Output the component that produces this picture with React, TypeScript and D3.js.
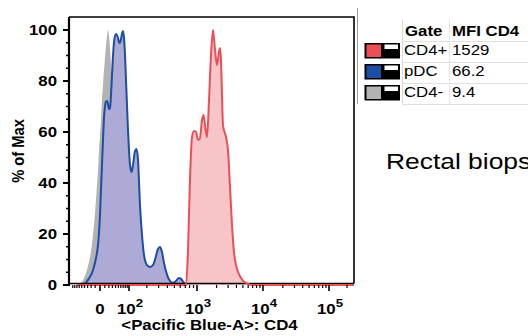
import React from "react";
import * as d3 from "d3";

// ---- data (intensity, % of max) ----
const grayX = [-65, -57, -45, -32, -20, -12.8, -8.2, -3.9, -1.9, 1.9, 3.9, 6.0, 8.2, 10.4, 12.8, 15.2, 17.7, 20.3, 23.0, 25.9, 28.8, 31.8, 38.2, 49.0, 65.0, 94.4, 128, 187];
const grayY = [0, 0.4, 2, 5.9, 13.7, 23.5, 33.3, 45.1, 52.9, 64.7, 72.5, 78.4, 84.3, 89, 94.1, 97.6, 100, 97.6, 93, 86.3, 79.6, 72.5, 60.8, 43.1, 23.5, 9, 2.7, 0];

const blueX = [-41.7, -28.8, -15, -8.2, -3.9, 0, 1.9, 3.9, 6.0, 8.2, 10.4, 12.8, 15.2, 17.7, 20.3, 23, 25.9, 28.8, 31.8, 35, 38.2, 41.7, 45.2, 49, 52.7, 56.7, 60.8, 65, 69.5, 74.1, 79, 83.9, 89, 94.4, 100, 104.4, 111.1, 118.2, 128.1, 135.8, 144.1, 155.4, 167.6, 180.4, 201.1, 223.6, 248.1, 274.8, 293.9, 314, 335.6, 358.3, 396.6, 435, 478.5, 525.9, 577.6, 614.4, 674, 739];
const blueY = [0, 2, 5.9, 10.6, 15.7, 27.5, 37.3, 47.1, 56.9, 65.5, 70, 72, 72.2, 71, 69, 69.4, 74.5, 82.4, 89.8, 95.3, 97.6, 98.4, 98, 96.9, 95.3, 94.9, 96.5, 98.4, 99.6, 96.9, 90.2, 80.4, 70.6, 60.8, 52.9, 47.1, 44.3, 47.1, 52.5, 53.3, 49, 31.4, 19.6, 11.8, 7.8, 7.1, 7.8, 11.4, 14.1, 14.9, 12.9, 8.6, 3.9, 1.6, 0.8, 1.6, 2.7, 2.4, 0.8, 0];

const redX = [-70, 716.7, 761.8, 809, 860, 914, 970.7, 1036.6, 1113, 1196, 1261, 1330, 1428, 1534, 1646, 1765, 1895, 2032, 2179, 2255, 2337, 2420, 2506, 2783, 2984, 3200, 3428, 3675, 3940, 4370, 5031, 5950, 6848, 262144];
const redY = [0, 0, 13.7, 41.2, 58, 60.4, 60, 56.9, 57.6, 64.7, 66.7, 62.7, 58, 72.5, 90.2, 100, 92.2, 86.3, 91.4, 92.9, 88.2, 74.5, 62.7, 58, 52.9, 38.4, 23.5, 12.9, 7.8, 4.3, 1.6, 0.4, 0, 0];

const yTicks = [0, 20, 40, 60, 80, 100];
const xMajorTicks = [0, 100, 1000, 10000, 100000];
const xTickLabels = [
  { base: "0", exp: "" },
  { base: "10", exp: "2" },
  { base: "10", exp: "3" },
  { base: "10", exp: "4" },
  { base: "10", exp: "5" },
];

const legendGates = ["CD4+", "pDC", "CD4-"];
const legendMFI = ["1529", "66.2", "9.4"];
const legendColors = ["#e94f55", "#1e4ea3", "#b3b3b3"];

const FONT = "'Liberation Sans', Arial, sans-serif";
const SX = 1.2; // horizontal stretch of text seen in the reference

function T(props: {
  x: number;
  y: number;
  size: number;
  bold?: boolean;
  anchor?: "start" | "middle" | "end";
  children: React.ReactNode;
}) {
  return (
    <text
      transform={`translate(${props.x},${props.y}) scale(${SX},1)`}
      textAnchor={props.anchor || "start"}
      fontSize={props.size}
      fontWeight={props.bold ? "bold" : "normal"}
    >
      {props.children}
    </text>
  );
}

export default function App() {
  const L = 69, R = 354, Tp = 17, B = 285;
  const x = d3
    .scaleSymlog()
    .constant(50)
    .domain([-112, 0, 100, 1000, 10000, 100000, 262144])
    .range([L, 100, 129, 197, 263, 329, R]);
  const y = d3.scaleLinear().domain([0, 100]).range([B, 30]);

  const zip = (xs: number[], ys: number[]) => xs.map((v, i) => [v, ys[i]] as [number, number]);
  const area = d3
    .area<[number, number]>()
    .x((d) => x(d[0]))
    .y0(y(0))
    .y1((d) => y(d[1]))
    .curve(d3.curveMonotoneX);
  const line = d3
    .line<[number, number]>()
    .x((d) => x(d[0]))
    .y((d) => y(d[1]))
    .curve(d3.curveMonotoneX);

  const gray = zip(grayX, grayY);
  const blue = zip(blueX, blueY);
  const red = zip(redX, redY);

  const yMinor = d3.range(0, 101, 5).filter((v) => v % 20 !== 0);
  const xMinor: number[] = [];
  for (let m = 1; m <= 9; m++) xMinor.push(-10 * m, 10 * m);
  [100, 1000, 10000].forEach((p) => {
    for (let m = 2; m <= 9; m++) xMinor.push(p * m);
  });
  xMinor.push(200000);

  const rowBase = [54.5, 75.5, 96.5];

  return (
    <svg
      width={528}
      height={336}
      style={{ position: "absolute", left: 0, top: 0, background: "#fff" }}
      fontFamily={FONT}
    >
      <rect x={0} y={0} width={528} height={336} fill="#fff" />
      {/* histograms */}
      <path d={area(gray) || ""} fill="#b3b3b3" />
      <path d={area(blue) || ""} fill="#adaad6" />
      <path d={line(blue) || ""} fill="none" stroke="#1e4ea3" strokeWidth={2} />
      <path d={area(red) || ""} fill="#f7c5c7" />
      {/* box */}
      <path d={`M${L},${Tp}H${R}V${B - 1.5}`} fill="none" stroke="#000" strokeWidth={1.6} />
      <path d={`M${R},${B - 1.5}H${L}`} fill="none" stroke="#000" strokeWidth={1.6} />
      <path d={line(red) || ""} fill="none" stroke="#e94f55" strokeWidth={2} />
      <line x1={L} x2={L} y1={Tp} y2={B + 1} stroke="#000" strokeWidth={2.2} />

      {/* y ticks */}
      {yTicks.map((t) => (
        <g key={"yt" + t}>
          <line x1={L - 6} x2={L} y1={y(t)} y2={y(t)} stroke="#000" strokeWidth={2} />
          <T x={57} y={y(t) + 5} size={14} bold anchor="end">
            {t}
          </T>
        </g>
      ))}
      {yMinor.map((t) => (
        <line key={"ym" + t} x1={L - 3} x2={L} y1={y(t)} y2={y(t)} stroke="#000" strokeWidth={1.5} />
      ))}

      {/* x ticks */}
      {xMinor.map((t) => (
        <line key={"xm" + t} x1={x(t)} x2={x(t)} y1={B} y2={B + 3} stroke="#000" strokeWidth={1.2} />
      ))}
      {xMajorTicks.map((t, i) => (
        <g key={"xt" + t}>
          <line x1={x(t)} x2={x(t)} y1={B} y2={B + 6} stroke="#000" strokeWidth={1.6} />
          <T x={x(t) + (xTickLabels[i].exp ? 1 : 0)} y={314} size={14} bold anchor="middle">
            {xTickLabels[i].base}
            {xTickLabels[i].exp && (
              <tspan dy={-7} fontSize={11}>
                {xTickLabels[i].exp}
              </tspan>
            )}
          </T>
        </g>
      ))}

      {/* axis titles */}
      <T x={(L + R) / 2 - 2} y={330} size={14} bold anchor="middle">
        {"<Pacific Blue-A>: CD4"}
      </T>
      <text
        transform={`translate(24,${(Tp + B) / 2}) rotate(-90) scale(1.05,1.2)`}
        textAnchor="middle"
        fontSize={14}
        fontWeight="bold"
      >
        % of Max
      </text>

      {/* legend table */}
      <line x1={357.5} x2={357.5} y1={8} y2={104} stroke="#9a9a9a" strokeWidth={1} />
      <line x1={402.5} x2={402.5} y1={20} y2={104} stroke="#d8d8d8" strokeWidth={1} />
      <line x1={449.5} x2={449.5} y1={20} y2={104} stroke="#e4e4e4" strokeWidth={1} />
      {[41.5, 62.5, 83.5, 104.5].map((yy) => (
        <line key={"hl" + yy} x1={402} x2={528} y1={yy} y2={yy} stroke="#e0e0e0" strokeWidth={1} />
      ))}
      <T x={405} y={36} size={14} bold>Gate</T>
      <T x={452} y={36} size={14} bold>MFI CD4</T>
      {legendGates.map((g, i) => {
        const top = rowBase[i] - 11.5;
        return (
          <g key={"lg" + g}>
            <rect x={364.5} y={top} width={35.5} height={15.5} fill="#000" />
            <rect x={366.5} y={top + 1.5} width={14.5} height={12.5} fill={legendColors[i]} />
            <rect x={384.5} y={top + 1.5} width={13.5} height={4.5} fill="#fff" />
            <T x={404} y={rowBase[i]} size={14}>{g}</T>
            <T x={452} y={rowBase[i]} size={14}>{legendMFI[i]}</T>
          </g>
        );
      })}

      <T x={386} y={169} size={22}>Rectal biopsy</T>
    </svg>
  );
}
